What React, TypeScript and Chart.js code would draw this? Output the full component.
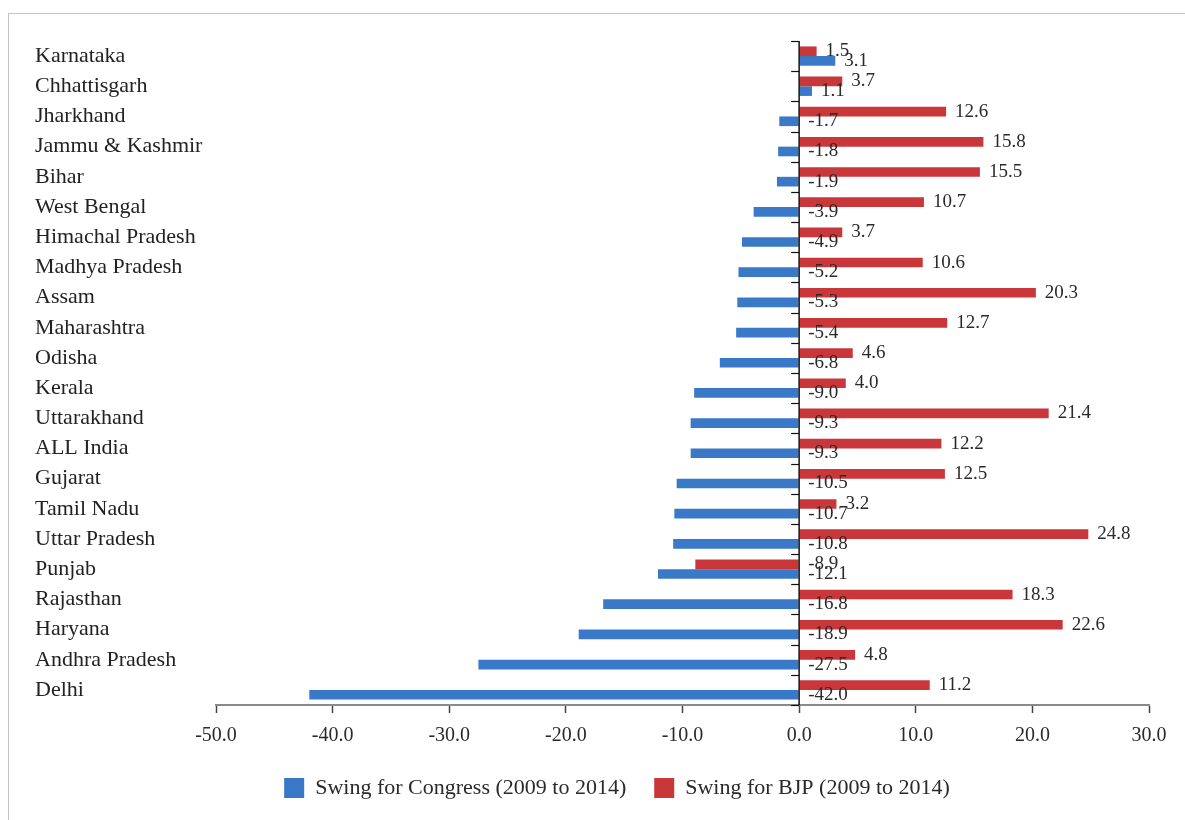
import React, { useEffect, useRef } from "react";
import { Chart, registerables } from "chart.js";

Chart.register(...registerables);

const states = [
  "Karnataka",
  "Chhattisgarh",
  "Jharkhand",
  "Jammu & Kashmir",
  "Bihar",
  "West Bengal",
  "Himachal Pradesh",
  "Madhya Pradesh",
  "Assam",
  "Maharashtra",
  "Odisha",
  "Kerala",
  "Uttarakhand",
  "ALL India",
  "Gujarat",
  "Tamil Nadu",
  "Uttar Pradesh",
  "Punjab",
  "Rajasthan",
  "Haryana",
  "Andhra Pradesh",
  "Delhi",
];

const congressSwing = [
  3.1, 1.1, -1.7, -1.8, -1.9, -3.9, -4.9, -5.2, -5.3, -5.4, -6.8, -9.0, -9.3,
  -9.3, -10.5, -10.7, -10.8, -12.1, -16.8, -18.9, -27.5, -42.0,
];

const bjpSwing = [
  1.5, 3.7, 12.6, 15.8, 15.5, 10.7, 3.7, 10.6, 20.3, 12.7, 4.6, 4.0, 21.4,
  12.2, 12.5, 3.2, 24.8, -8.9, 18.3, 22.6, 4.8, 11.2,
];

const congressLabel = "Swing for Congress (2009 to 2014)";
const bjpLabel = "Swing for BJP (2009 to 2014)";

const xMin = -50;
const xMax = 30;
const xStep = 10;

const SERIF = "'Liberation Serif', 'Times New Roman', serif";
const BLUE = "#3a78c8";
const RED = "#c9373a";

const zeroAxisPlugin = {
  id: "zeroAxis",
  afterDatasetsDraw(chart: any) {
    const { ctx, chartArea, scales } = chart;
    const x0 = scales.x.getPixelForValue(0);
    const n = chart.data.labels.length;
    const step = (chartArea.bottom - chartArea.top) / n;
    ctx.save();
    ctx.strokeStyle = "#111";
    ctx.lineWidth = 1.5;
    ctx.beginPath();
    ctx.moveTo(x0, chartArea.top);
    ctx.lineTo(x0, chartArea.bottom);
    ctx.stroke();
    ctx.lineWidth = 1.2;
    for (let i = 0; i <= n; i++) {
      const y = Math.round(chartArea.top + i * step) + 0.5;
      ctx.beginPath();
      ctx.moveTo(x0 - 8, y);
      ctx.lineTo(x0, y);
      ctx.stroke();
    }
    ctx.restore();
  },
};

const dataLabelPlugin = {
  id: "dataLabels",
  afterDatasetsDraw(chart: any) {
    const { ctx, scales } = chart;
    const x0 = scales.x.getPixelForValue(0);
    ctx.save();
    ctx.font = `19px ${SERIF}`;
    ctx.fillStyle = "#2a2a2a";
    ctx.textAlign = "left";
    ctx.textBaseline = "middle";
    chart.data.datasets.forEach((ds: any, d: number) => {
      const meta = chart.getDatasetMeta(d);
      meta.data.forEach((bar: any, i: number) => {
        const v = ds.data[i] as number;
        const x = Math.max(bar.x, x0) + 9;
        ctx.fillText(v.toFixed(1), x, bar.y);
      });
    });
    ctx.restore();
  },
};

const legendShiftPlugin = {
  id: "legendShift",
  afterLayout(chart: any) {
    const dx = 25;
    if (chart.legend) {
      chart.legend.left += dx;
      chart.legend.right += dx;
    }
  },
};

export default function App() {
  const canvasRef = useRef<HTMLCanvasElement | null>(null);

  useEffect(() => {
    if (!canvasRef.current) return;
    const chart = new Chart(canvasRef.current, {
      type: "bar",
      data: {
        labels: states,
        datasets: [
          {
            label: bjpLabel,
            data: bjpSwing,
            backgroundColor: RED,
            borderWidth: 0,
            categoryPercentage: 0.64,
            barPercentage: 1.0,
          },
          {
            label: congressLabel,
            data: congressSwing,
            backgroundColor: BLUE,
            borderWidth: 0,
            categoryPercentage: 0.64,
            barPercentage: 1.0,
          },
        ],
      },
      options: {
        indexAxis: "y",
        animation: false,
        responsive: false,
        maintainAspectRatio: false,
        layout: { padding: { left: 26, right: 36, top: 27, bottom: 11 } },
        scales: {
          x: {
            type: "linear",
            min: xMin,
            max: xMax,
            ticks: {
              stepSize: xStep,
              callback: (v: any) => Number(v).toFixed(1),
              font: { family: SERIF, size: 20 },
              color: "#2a2a2a",
              padding: 11,
              maxRotation: 0,
            },
            grid: {
              drawOnChartArea: false,
              drawTicks: true,
              tickLength: 8,
              tickColor: "#444",
              tickWidth: 1.5,
            },
            border: { display: true, color: "#8a8a8a", width: 2 },
            afterFit: (scale: any) => {
              scale.height = 44;
            },
          },
          y: {
            type: "category",
            ticks: {
              font: { family: SERIF, size: 22 },
              color: "#222",
              crossAlign: "far",
              padding: 0,
              autoSkip: false,
            },
            grid: { display: false },
            border: { display: false },
            afterFit: (scale: any) => {
              scale.width = 181;
            },
          },
        },
        plugins: {
          legend: {
            display: true,
            position: "bottom",
            labels: {
              boxWidth: 20,
              boxHeight: 20,
              padding: 28,
              color: "#2a2a2a",
              font: { family: SERIF, size: 22 },
              sort: (a: any, b: any) => b.datasetIndex - a.datasetIndex,
            },
          },
          tooltip: { enabled: false },
          title: { display: false },
        },
      },
      plugins: [zeroAxisPlugin, dataLabelPlugin, legendShiftPlugin],
    } as any);
    return () => chart.destroy();
  }, []);

  return (
    <div
      style={{
        position: "absolute",
        left: 8,
        top: 13,
        width: 1176,
        height: 806,
        borderTop: "1px solid #c4c4c4",
        borderLeft: "1px solid #c4c4c4",
        background: "#fff",
      }}
    >
      <canvas
        ref={canvasRef}
        width={1176}
        height={806}
        style={{ display: "block", width: 1176, height: 806 }}
      />
    </div>
  );
}
